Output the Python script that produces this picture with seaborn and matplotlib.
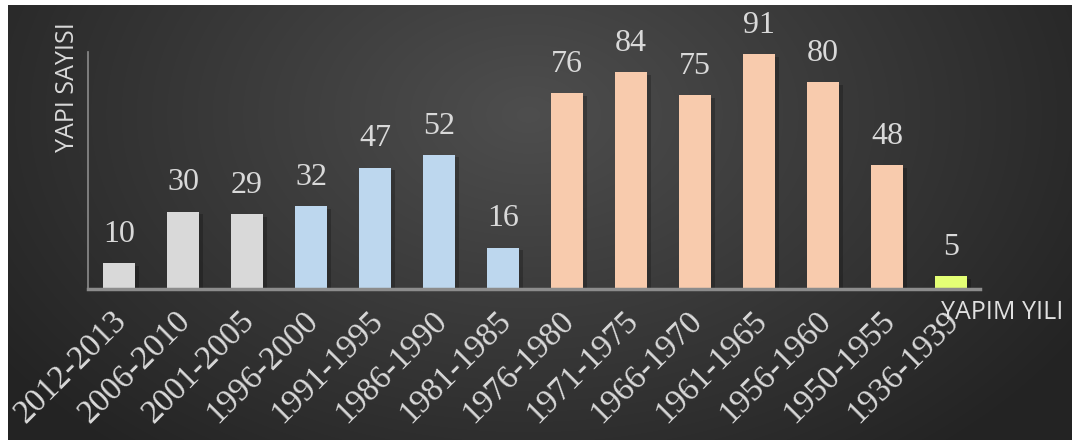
import numpy as np
import pandas as pd
import seaborn as sns
import matplotlib.pyplot as plt
import matplotlib.patheffects as pe
import matplotlib.transforms as mtrans

# data
periods = ['2012-2013', '2006-2010', '2001-2005', '1996-2000', '1991-1995',
           '1986-1990', '1981-1985', '1976-1980', '1971-1975', '1966-1970',
           '1961-1965', '1956-1960', '1950-1955', '1936-1939']
counts = [10, 30, 29, 32, 47, 52, 16, 76, 84, 75, 91, 80, 48, 5]
groups = ['g'] * 3 + ['b'] * 4 + ['p'] * 6 + ['y']
group_colors = {'g': '#D9D9D9', 'b': '#BDD7EE', 'p': '#F8CBAD', 'y': '#E4FF75'}

df = pd.DataFrame({'period': periods, 'count': counts, 'group': groups})

sns.set_style('dark')
W, H = 1072, 440
fig = plt.figure(figsize=(W / 100, H / 100), dpi=100)
fig.patch.set_facecolor('white')

# radial gradient background
bg = fig.add_axes([8 / W, 0, 1 - 8 / W, 1 - 5 / H])
yy, xx = np.mgrid[0:435, 0:1064]
d = np.sqrt(((xx - 520) / 620) ** 2 + ((yy - 110) / 420) ** 2)
shade = np.clip(0.305 - 0.16 * d, 0.14, 0.305)
bg.imshow(np.dstack([shade] * 3), aspect='auto', interpolation='bilinear')
bg.axis('off')

# main axes placed in pixel terms
left, right, top, base = 88, 980, 52, 289
ax = fig.add_axes([left / W, 1 - base / H, (right - left) / W, (base - top) / H])
ax.patch.set_alpha(0)

sns.barplot(data=df, x='period', y='count', hue='group', palette=group_colors,
            dodge=False, width=0.5, legend=False, saturation=1, linewidth=0, ax=ax)

shadow = [pe.SimplePatchShadow(offset=(3, -2), shadow_rgbFace='black', alpha=0.22), pe.Normal()]
for p in ax.patches:
    p.set_edgecolor('none')
    p.set_path_effects(shadow)

ax.set_xlim(-31 / 64, (right - left - 31) / 64)
ax.set_ylim(0, 91 * (base - top) / 235)

for i, v in enumerate(counts):
    ax.text(i, v + 5.5, str(v), ha='center', va='bottom', color='#D9D9D9',
            fontsize=23, family='Liberation Serif', clip_on=False)

ax.set_xticks(range(len(periods)))
ax.set_xticklabels(periods, rotation=45, ha='right', rotation_mode='anchor',
                   color='#D9D9D9', fontsize=24, family='Liberation Serif')
ax.tick_params(axis='x', length=0, pad=12)
shift = mtrans.ScaledTranslation(-8 / 100, 0, fig.dpi_scale_trans)
for lab in ax.get_xticklabels():
    lab.set_transform(lab.get_transform() + shift)
ax.set_yticks([])
ax.set_xlabel('')
ax.set_ylabel('')

for s in ['top', 'right']:
    ax.spines[s].set_visible(False)
ax.spines['left'].set_color('#8C8C8C')
ax.spines['left'].set_linewidth(1.2)
ax.spines['bottom'].set_color('#8C8C8C')
ax.spines['bottom'].set_linewidth(2.5)

fig.text(68 / W, 1 - 87 / H, 'YAPI SAYISI', rotation=90, ha='center', va='center',
         color='#D9D9D9', fontsize=18, family='Open Sans')
fig.text(1002 / W, 1 - 312 / H, 'YAPIM YILI', ha='center', va='center',
         color='#E0E0E0', fontsize=18, family='Open Sans')

fig.savefig('out.png', dpi=100)
